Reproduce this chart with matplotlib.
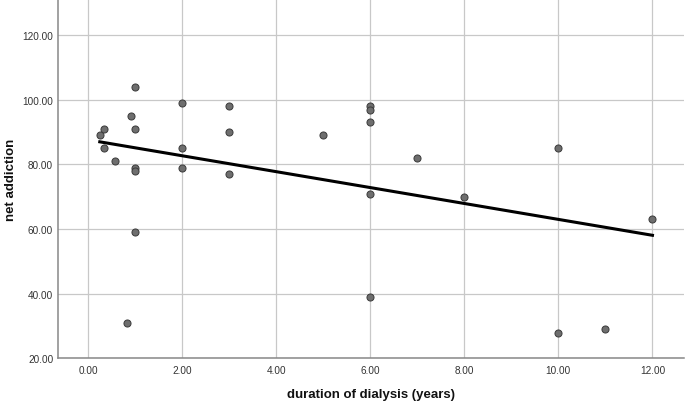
import numpy as np
import matplotlib
matplotlib.use("Agg")
import matplotlib.pyplot as plt

plt.rcParams['font.family'] = ['Liberation Sans', 'DejaVu Sans']

duration = [0.25, 0.33, 0.33, 0.58, 0.83, 0.92, 1, 1, 1, 1, 1,
            2, 2, 2, 3, 3, 3, 5, 6, 6, 6, 6, 6, 7, 8, 10, 10, 11, 12]
addiction = [89, 91, 85, 81, 31, 95, 104, 91, 79, 78, 59,
             99, 85, 79, 98, 90, 77, 89, 98, 97, 93, 71, 39, 82, 70, 85, 28, 29, 63]

xticks = [0, 2, 4, 6, 8, 10, 12]
yticks = [20, 40, 60, 80, 100, 120]
xlabel = "duration of dialysis (years)"
ylabel = "net addiction"

fig = plt.figure(figsize=(6.85, 4.02), dpi=100)
ax = fig.add_axes([0.0842, 0.106, 0.9143, 0.894])

x = np.array(duration, dtype=float)
y = np.array(addiction, dtype=float)

ax.grid(True, color='#c8c8c8', linewidth=0.9, zorder=0)
ax.set_axisbelow(True)

ax.scatter(x, y, s=26, facecolor='#6e6e6e', edgecolor='#3a3a3a', linewidth=0.7, zorder=3)

slope, intercept = np.polyfit(x, y, 1)
xs = np.array([x.min(), x.max()])
ax.plot(xs, slope * xs + intercept, color='black', linewidth=2.2, zorder=4)

ax.set_xlim(-0.645, 12.67)
ax.set_ylim(20, 131.2)
ax.set_xticks(xticks)
ax.set_yticks(yticks)
ax.set_xticklabels([f"{v:.2f}" for v in xticks])
ax.set_yticklabels([f"{v:.2f}" for v in yticks])
ax.tick_params(length=0, labelsize=7.2, colors='#333333')
ax.tick_params(axis='x', pad=5)
ax.tick_params(axis='y', pad=3.2)

for s in ['top', 'right']:
    ax.spines[s].set_visible(False)
for s in ['left', 'bottom']:
    ax.spines[s].set_color('#888888')
    ax.spines[s].set_linewidth(1.1)

ax.set_xlabel(xlabel, fontsize=9.5, fontweight='bold', labelpad=9, color='#111111')
ax.set_ylabel(ylabel, fontsize=9.5, fontweight='bold', labelpad=4, color='#111111')

fig.savefig("out.png", dpi=100)
